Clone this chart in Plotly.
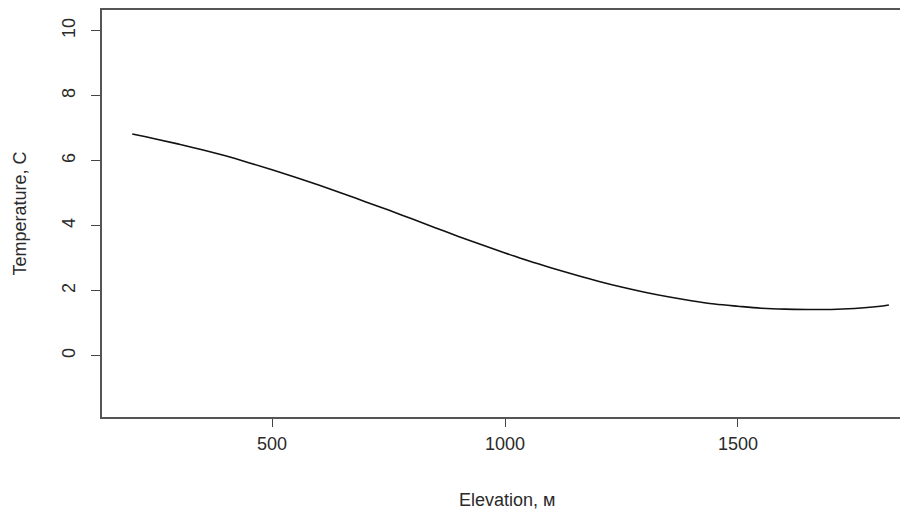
import plotly.graph_objects as go

elevation = [200, 250, 300, 350, 400, 450, 500, 550, 600, 650, 700, 750, 800, 850, 900, 950,
             1000, 1050, 1100, 1150, 1200, 1250, 1300, 1350, 1400, 1450, 1500, 1550, 1600,
             1650, 1700, 1750, 1800, 1824]
temperature = [6.82, 6.67, 6.51, 6.34, 6.15, 5.94, 5.72, 5.49, 5.25, 5.00, 4.74, 4.48,
               4.21, 3.94, 3.67, 3.41, 3.16, 2.92, 2.70, 2.49, 2.29, 2.11, 1.95, 1.81,
               1.69, 1.59, 1.52, 1.46, 1.43, 1.42, 1.42, 1.45, 1.51, 1.56]

x_ticks = [500, 1000, 1500]
y_ticks = [0, 2, 4, 6, 8, 10]

fig = go.Figure()
fig.add_trace(go.Scatter(x=elevation, y=temperature, mode="lines",
                         line=dict(color="#111111", width=1.6, shape="spline"),
                         showlegend=False, hoverinfo="skip"))

font = dict(family="Liberation Sans, Arial, sans-serif", size=18, color="#2a2a2a")
fig.update_layout(
    width=900, height=504,
    margin=dict(l=94, r=0, t=2, b=95, autoexpand=False),
    plot_bgcolor="white", paper_bgcolor="white",
    font=font,
    annotations=[
        dict(text="Elevation, м", xref="paper", yref="paper", x=0.503, y=0,
             yshift=-83, xanchor="center", yanchor="middle", showarrow=False, font=font),
        dict(text="Temperature, C", xref="paper", yref="paper", x=0, y=0.5,
             xshift=-83, xanchor="center", yanchor="middle", textangle=-90,
             showarrow=False, font=font),
    ],
)
fig.update_xaxes(range=[135, 1865], tickvals=x_ticks, ticks="outside", ticklen=8,
                 tickcolor="#444", showline=True, linecolor="#555", linewidth=1.5,
                 mirror=True, showgrid=False, zeroline=False, automargin=False,
                 ticklabelstandoff=2, tickfont=font)
fig.update_yaxes(range=[-1.89, 10.64], tickvals=y_ticks, ticks="outside", ticklen=9,
                 tickcolor="#444", showline=True, linecolor="#555", linewidth=1.5,
                 mirror=False, showgrid=False, zeroline=False, tickangle=-90,
                 automargin=False, ticklabelstandoff=9, tickfont=font)

fig.write_html("out.html")
